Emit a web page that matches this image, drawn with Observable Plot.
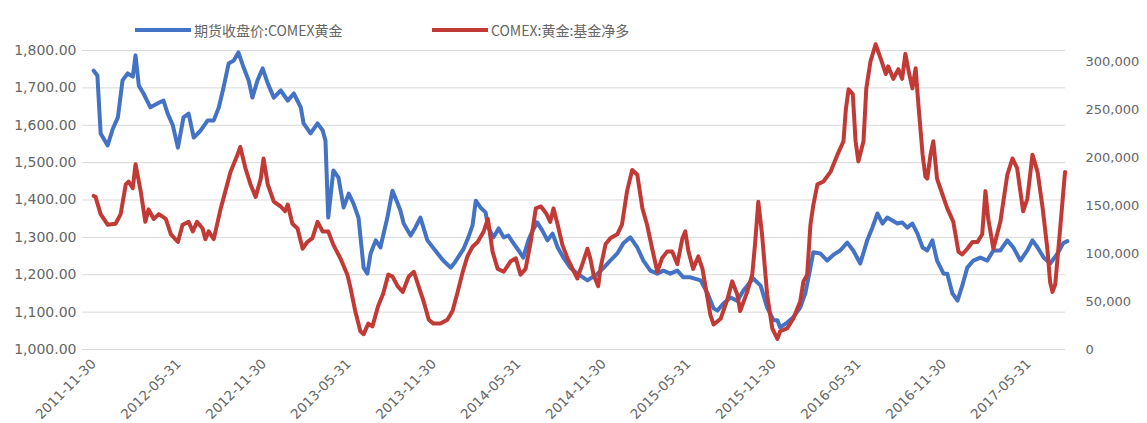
<!DOCTYPE html>
<html>
<head>
<meta charset="utf-8">
<script src="https://cdn.jsdelivr.net/npm/d3@7"></script>
<script src="https://cdn.jsdelivr.net/npm/@observablehq/plot@0.6"></script>
<style>
  html, body { margin: 0; padding: 0; background: #fff; }
  body { width: 1147px; height: 423px; overflow: hidden; font-family: "DejaVu Sans", sans-serif; }
  #legend { position: relative; height: 40px; }
  .item { position: absolute; top: 20px; display: flex; align-items: center; font-family: "Noto Sans CJK SC", sans-serif; font-size: 14px; color: #666; white-space: nowrap; }
  .swatch { width: 56px; height: 4px; margin-right: 3px; }
</style>
</head>
<body>
<div id="legend"></div>
<div id="chart"></div>
<script>
// ---- data ----
const seriesNames = ["期货收盘价:COMEX黄金", "COMEX:黄金:基金净多"];
const seriesColors = ["#4472C4", "#C23A35"];

const goldDates = [
  "2011-11-30","2011-12-08","2011-12-15","2011-12-30","2012-01-10","2012-01-21","2012-01-31","2012-02-11","2012-02-22","2012-02-28",
  "2012-03-06","2012-03-16","2012-03-31","2012-04-15","2012-04-28","2012-05-07","2012-05-18","2012-05-29","2012-06-10","2012-06-21",
  "2012-07-02","2012-07-17","2012-08-01","2012-08-14","2012-08-25","2012-09-04","2012-09-15","2012-09-26","2012-10-06","2012-10-17",
  "2012-10-28","2012-11-05","2012-11-16","2012-11-27","2012-12-08","2012-12-21","2013-01-05","2013-01-20","2013-02-02","2013-02-17",
  "2013-02-23","2013-03-10","2013-03-25","2013-04-05","2013-04-11","2013-04-17","2013-04-28","2013-05-09","2013-05-20","2013-05-31",
  "2013-06-10","2013-06-21","2013-07-02","2013-07-10","2013-07-17","2013-07-28","2013-08-07","2013-08-22","2013-09-02","2013-09-13",
  "2013-09-19","2013-09-26","2013-10-11","2013-10-21","2013-11-01","2013-11-16","2013-12-08","2013-12-20","2014-01-05","2014-01-15",
  "2014-02-02","2014-02-12","2014-02-21","2014-02-28","2014-03-10","2014-03-21","2014-03-27","2014-04-07","2014-04-18","2014-04-29",
  "2014-05-09","2014-05-20","2014-05-31","2014-06-10","2014-06-21","2014-06-30","2014-07-10","2014-07-21","2014-08-01","2014-08-12",
  "2014-08-23","2014-09-04","2014-09-19","2014-10-04","2014-10-26","2014-11-17","2014-11-30","2014-12-14","2014-12-29","2015-01-11",
  "2015-01-26","2015-02-10","2015-02-23","2015-03-10","2015-03-25","2015-04-07","2015-04-22","2015-05-07","2015-05-20","2015-06-04",
  "2015-06-26","2015-07-11","2015-07-24","2015-08-01","2015-08-14","2015-08-29","2015-09-13","2015-09-26","2015-10-17","2015-11-02",
  "2015-11-16","2015-11-30","2015-12-08","2015-12-14","2015-12-29","2016-01-11","2016-01-26","2016-02-06","2016-02-17","2016-02-23",
  "2016-03-09","2016-03-24","2016-04-06","2016-04-21","2016-05-06","2016-05-19","2016-06-03","2016-06-18","2016-06-29","2016-07-10",
  "2016-07-21","2016-07-31","2016-08-11","2016-08-22","2016-09-01","2016-09-12","2016-09-23","2016-10-04","2016-10-15","2016-10-25",
  "2016-11-05","2016-11-15","2016-11-29","2016-12-07","2016-12-18","2016-12-29","2017-01-08","2017-01-19","2017-02-01","2017-02-16",
  "2017-03-03","2017-03-16","2017-03-31","2017-04-15","2017-04-28","2017-05-13","2017-05-28","2017-06-08","2017-06-19","2017-07-02",
  "2017-07-16","2017-08-01","2017-08-13","2017-08-22"
];
const goldValues = [
  1746,1733,1578,1546,1590,1621,1720,1739,1730,1787,
  1706,1685,1648,1658,1666,1631,1600,1540,1621,1631,
  1567,1586,1613,1613,1648,1701,1765,1773,1795,1755,
  1720,1674,1720,1752,1712,1674,1693,1666,1685,1648,
  1605,1578,1605,1586,1559,1353,1479,1460,1380,1417,
  1391,1353,1219,1203,1257,1292,1273,1353,1425,1391,
  1372,1337,1305,1326,1353,1292,1257,1238,1219,1235,
  1270,1300,1332,1398,1380,1367,1326,1300,1324,1300,
  1305,1284,1265,1246,1292,1318,1340,1318,1292,1310,
  1273,1246,1219,1203,1185,1203,1219,1238,1257,1284,
  1300,1273,1238,1211,1203,1211,1203,1211,1193,1193,
  1185,1150,1110,1104,1123,1139,1130,1158,1190,1171,
  1112,1078,1078,1059,1072,1086,1112,1150,1219,1260,
  1257,1238,1253,1265,1286,1265,1230,1292,1326,1364,
  1337,1353,1345,1337,1340,1326,1337,1310,1273,1265,
  1292,1238,1203,1203,1150,1131,1170,1219,1238,1246,
  1238,1265,1265,1292,1273,1238,1265,1292,1273,1246,
  1230,1257,1284,1290
];

const netDates = [
  "2011-11-30","2011-12-04","2011-12-15","2011-12-30","2012-01-16","2012-01-27","2012-02-07","2012-02-13","2012-02-22","2012-02-28",
  "2012-03-10","2012-03-20","2012-03-27","2012-04-07","2012-04-18","2012-05-03","2012-05-14","2012-05-29","2012-06-08","2012-06-21",
  "2012-06-30","2012-07-09","2012-07-21","2012-07-27","2012-08-03","2012-08-14","2012-08-29","2012-09-08","2012-09-19","2012-10-04",
  "2012-10-10","2012-10-21","2012-11-01","2012-11-12","2012-11-23","2012-11-29","2012-12-08","2012-12-21","2013-01-05","2013-01-14",
  "2013-01-20","2013-01-30","2013-02-10","2013-02-21","2013-03-03","2013-03-14","2013-03-25","2013-04-05","2013-04-17","2013-04-28",
  "2013-05-13","2013-05-28","2013-06-03","2013-06-14","2013-06-25","2013-07-02","2013-07-12","2013-07-21","2013-08-02","2013-08-13",
  "2013-08-24","2013-09-02","2013-09-13","2013-09-24","2013-10-07","2013-10-18","2013-10-28","2013-11-08","2013-11-19","2013-11-29",
  "2013-12-14","2013-12-29","2014-01-09","2014-01-20","2014-01-31","2014-02-10","2014-02-21","2014-03-04","2014-03-17","2014-03-26",
  "2014-04-05","2014-04-16","2014-04-29","2014-05-14","2014-05-25","2014-06-04","2014-06-15","2014-06-26","2014-07-07","2014-07-18",
  "2014-07-29","2014-08-07","2014-08-14","2014-08-23","2014-09-02","2014-09-13","2014-09-24","2014-10-04","2014-10-15","2014-10-26",
  "2014-11-01","2014-11-08","2014-11-18","2014-11-23","2014-12-04","2014-12-14","2014-12-29","2015-01-08","2015-01-19","2015-01-30",
  "2015-02-10","2015-02-21","2015-03-03","2015-03-14","2015-03-25","2015-04-04","2015-04-15","2015-04-26","2015-05-07","2015-05-18",
  "2015-05-24","2015-05-31","2015-06-10","2015-06-21","2015-06-30","2015-07-17","2015-07-24","2015-08-08","2015-08-23","2015-09-02",
  "2015-09-13","2015-09-19","2015-10-04","2015-10-15","2015-10-21","2015-10-28","2015-11-05","2015-11-16","2015-11-27","2015-12-08",
  "2015-12-14","2015-12-29","2016-01-11","2016-01-26","2016-02-02","2016-02-10","2016-02-17","2016-02-23","2016-03-03","2016-03-16",
  "2016-03-31","2016-04-15","2016-04-28","2016-05-03","2016-05-09","2016-05-18","2016-05-24","2016-05-30","2016-06-10","2016-06-16",
  "2016-06-25","2016-07-06","2016-07-17","2016-07-28","2016-08-02","2016-08-13","2016-08-24","2016-09-01","2016-09-08","2016-09-15",
  "2016-09-23","2016-09-30","2016-10-06","2016-10-15","2016-10-21","2016-10-25","2016-11-01","2016-11-07","2016-11-15","2016-11-22",
  "2016-12-07","2016-12-20","2016-12-31","2017-01-08","2017-01-19","2017-01-30","2017-02-10","2017-02-20","2017-02-27","2017-03-05",
  "2017-03-16","2017-03-31","2017-04-15","2017-04-26","2017-05-06","2017-05-19","2017-05-28","2017-06-08","2017-06-19","2017-06-30",
  "2017-07-10","2017-07-16","2017-07-21","2017-07-27","2017-08-06","2017-08-17"
];
const netValues = [
  160000,159000,141000,130000,131000,141000,172000,175000,168000,193000,
  165000,133000,146000,136000,141000,136000,120000,112000,130000,133000,
  123000,133000,126000,115000,123000,115000,147000,165000,185000,203000,
  211000,189000,172000,159000,178000,199000,172000,154000,149000,144000,
  151000,131000,126000,105000,112000,116000,133000,123000,123000,109000,
  95000,78000,66000,40000,19000,16000,27000,24000,45000,58000,
  78000,76000,66000,60000,76000,81000,66000,50000,31000,27000,
  27000,31000,40000,60000,81000,97000,107000,112000,123000,136000,
  102000,84000,81000,92000,95000,78000,84000,112000,147000,149000,
  142000,133000,147000,130000,109000,95000,84000,74000,89000,105000,
  95000,78000,66000,85000,110000,116000,120000,130000,165000,187000,
  182000,147000,130000,105000,81000,95000,102000,102000,89000,116000,
  123000,102000,84000,97000,84000,36000,26000,32000,53000,71000,
  57000,40000,60000,78000,110000,154000,120000,57000,22000,11000,
  19000,22000,32000,50000,71000,78000,130000,150000,172000,175000,
  185000,203000,217000,250000,271000,266000,217000,196000,217000,272000,
  300000,318000,303000,287000,295000,282000,292000,282000,308000,290000,
  272000,293000,255000,203000,180000,178000,203000,217000,178000,168000,
  147000,133000,102000,99000,105000,112000,112000,120000,165000,136000,
  105000,133000,182000,199000,189000,144000,157000,203000,185000,147000,
  105000,70000,60000,68000,123000,185000
];

const xTickDates = ["2011-11-30","2012-05-31","2012-11-30","2013-05-31","2013-11-30","2014-05-31",
                    "2014-11-30","2015-05-31","2015-11-30","2016-05-31","2016-11-30","2017-05-31"];
const leftTicks = [1000, 1100, 1200, 1300, 1400, 1500, 1600, 1700, 1800];
const rightTicks = [0, 50000, 100000, 150000, 200000, 250000, 300000];

// ---- scales shared by both axes ----
const leftMin = 1000, leftMax = 1800;
const rightMax = 311500; // right-axis value at the top of the plot
const toLeft = v => leftMin + v / rightMax * (leftMax - leftMin);
const fromLeft = y => (y - leftMin) / (leftMax - leftMin) * rightMax;

const parse = d3.utcParse("%Y-%m-%d");
const gold = goldDates.map((d, i) => ({date: parse(d), value: goldValues[i]}));
const net = netDates.map((d, i) => ({date: parse(d), value: netValues[i]}));

// ---- legend ----
const legend = document.getElementById("legend");
const legendX = [135, 432];
seriesNames.forEach((name, i) => {
  const it = document.createElement("div");
  it.className = "item";
  it.style.left = legendX[i] + "px";
  it.innerHTML = `<span class="swatch" style="background:${seriesColors[i]}"></span><span>${name}</span>`;
  legend.appendChild(it);
});

// ---- chart ----
const chart = Plot.plot({
  width: 1147,
  height: 383,
  marginTop: 10,
  marginBottom: 74,
  marginLeft: 82,
  marginRight: 82,
  style: {color: "#666", fontFamily: "DejaVu Sans, sans-serif", fontSize: "13px", background: "#fff"},
  x: {type: "utc", domain: [parse("2011-11-06"), parse("2017-08-18")]},
  y: {domain: [leftMin, leftMax]},
  marks: [
    Plot.gridY(leftTicks, {stroke: "#d9d9d9", strokeOpacity: 1, strokeWidth: 1}),
    Plot.axisY(leftTicks, {anchor: "left", tickSize: 0, tickPadding: 6, tickFormat: d3.format(",.2f"), label: null, fontSize: 14}),
    Plot.axisY(rightTicks.map(toLeft), {anchor: "right", tickSize: 0, tickPadding: 20, label: null, fontSize: 13,
      tickFormat: d => d3.format(",")(Math.round(fromLeft(d) / 1000) * 1000)}),
    Plot.axisX(xTickDates.map(parse), {tickSize: 0, tickPadding: 12, tickRotate: -45, label: null, fontSize: 13.5,
      tickFormat: d3.utcFormat("%Y-%m-%d")}),
    Plot.line(gold, {x: "date", y: "value", stroke: seriesColors[0], strokeWidth: 4, strokeLinejoin: "round"}),
    Plot.line(net, {x: "date", y: d => toLeft(d.value), stroke: seriesColors[1], strokeWidth: 4, strokeLinejoin: "round"})
  ]
});
document.getElementById("chart").appendChild(chart);
</script>
</body>
</html>
